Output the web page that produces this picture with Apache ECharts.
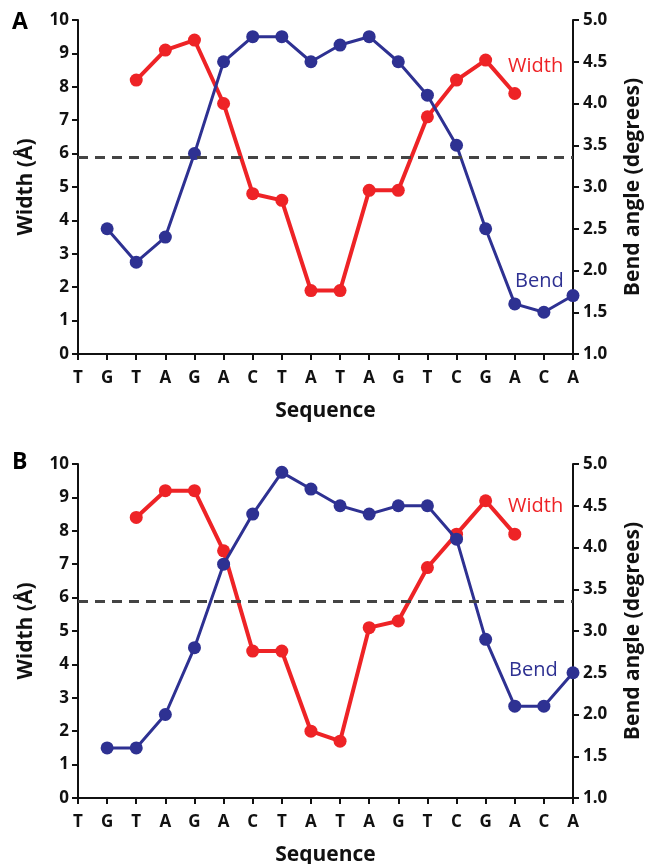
<!DOCTYPE html>
<html>
<head>
<meta charset="utf-8">
<script src="https://cdn.jsdelivr.net/npm/echarts@6/dist/echarts.min.js"></script>
<style>
  html, body { margin: 0; padding: 0; background: #fff; }
  #chart { width: 646px; height: 864px; }
</style>
</head>
<body>
<div id="chart"></div>
<script>
const sequence = ['T', 'G', 'T', 'A', 'G', 'A', 'C', 'T', 'A', 'T', 'A', 'G', 'T', 'C', 'G', 'A', 'C', 'A']

// panel A
const widthA = [null, null, 8.2, 9.1, 9.4, 7.5, 4.8, 4.6, 1.9, 1.9, 4.9, 4.9, 7.1, 8.2, 8.8, 7.8, null, null]
const bendA = [null, 2.5, 2.1, 2.4, 3.4, 4.5, 4.8, 4.8, 4.5, 4.7, 4.8, 4.5, 4.1, 3.5, 2.5, 1.6, 1.5, 1.7]
// panel B
const widthB = [null, null, 8.4, 9.2, 9.2, 7.4, 4.4, 4.4, 2.0, 1.7, 5.1, 5.3, 6.9, 7.9, 8.9, 7.9, null, null]
const bendB = [null, 1.6, 1.6, 2.0, 2.8, 3.8, 4.4, 4.9, 4.7, 4.5, 4.4, 4.5, 4.5, 4.1, 2.9, 2.1, 2.1, 2.5]

const refWidth = 5.9
const widthTicks = [0, 10, 1]
const bendTicks = [1, 5, 0.5]

const font = '"Open Sans", "DejaVu Sans", sans-serif'
const red = '#ee2326'
const blue = '#2e3192'
const axisBlack = '#111'

const chart = echarts.init(document.getElementById('chart'))

const grids = [
    { left: 78, top: 20, width: 495, height: 334, outerBoundsMode: 'none', containLabel: false },
    { left: 78, top: 464, width: 495, height: 334, outerBoundsMode: 'none', containLabel: false },
]

function xAxisFor(i) {
    return {
        type: 'category',
        gridIndex: i,
        data: sequence,
        boundaryGap: false,
        name: 'Sequence',
        nameLocation: 'middle',
        nameGap: 47,
        nameTextStyle: { fontFamily: font, fontSize: 21, fontWeight: 'bold', color: axisBlack },
        axisLine: { lineStyle: { color: axisBlack, width: 2 } },
        axisTick: { length: 6, lineStyle: { color: axisBlack, width: 2 } },
        axisLabel: { margin: 16, fontFamily: font, fontSize: 17, fontWeight: 'bold', color: axisBlack, interval: 0 },
        splitLine: { show: false },
    }
}

function yLeft(i) {
    return {
        type: 'value',
        gridIndex: i,
        position: 'left',
        min: widthTicks[0],
        max: widthTicks[1],
        interval: widthTicks[2],
        name: 'Width (Å)',
        nameLocation: 'middle',
        nameGap: 41,
        nameTextStyle: { fontFamily: font, fontSize: 21, fontWeight: 'bold', color: axisBlack },
        axisLine: { show: true, lineStyle: { color: axisBlack, width: 2 } },
        axisTick: { show: true, length: 6, lineStyle: { color: axisBlack, width: 2 } },
        axisLabel: { margin: 9, fontFamily: font, fontSize: 17, fontWeight: 'bold', color: axisBlack },
        splitLine: { show: false },
    }
}

function yRight(i) {
    return {
        type: 'value',
        gridIndex: i,
        position: 'right',
        min: bendTicks[0],
        max: bendTicks[1],
        interval: bendTicks[2],
        name: 'Bend angle (degrees)',
        nameLocation: 'middle',
        nameGap: 50,
        nameRotate: 90,
        nameTextStyle: { fontFamily: font, fontSize: 21, fontWeight: 'bold', color: axisBlack },
        axisLine: { show: true, lineStyle: { color: axisBlack, width: 2 } },
        axisTick: { show: true, length: 6, lineStyle: { color: axisBlack, width: 2 } },
        axisLabel: {
            margin: 10, fontFamily: font, fontSize: 17, fontWeight: 'bold', color: axisBlack,
            formatter: (v) => v.toFixed(1),
        },
        splitLine: { show: false },
    }
}

function widthSeries(data, i) {
    return {
        name: 'Width',
        type: 'line',
        xAxisIndex: i,
        yAxisIndex: i * 2,
        data: data,
        z: 3,
        symbol: 'circle',
        symbolSize: 13,
        connectNulls: false,
        lineStyle: { color: red, width: 4 },
        itemStyle: { color: red },
        markLine: {
            silent: true,
            symbol: 'none',
            label: { show: false },
            lineStyle: { color: '#444', type: [10, 7], width: 3 },
            data: [{ yAxis: refWidth }],
        },
    }
}

function bendSeries(data, i) {
    return {
        name: 'Bend',
        type: 'line',
        xAxisIndex: i,
        yAxisIndex: i * 2 + 1,
        data: data,
        z: 4,
        symbol: 'circle',
        symbolSize: 13,
        lineStyle: { color: blue, width: 3 },
        itemStyle: { color: blue },
    }
}

function textEl(text, x, y, color, size, weight) {
    return {
        type: 'text',
        left: x,
        top: y,
        z: 10,
        style: { text: text, fill: color, fontFamily: font, fontSize: size, fontWeight: weight },
    }
}

let option = {
    animation: false,
    backgroundColor: '#fff',
    grid: grids,
    xAxis: [xAxisFor(0), xAxisFor(1)],
    yAxis: [yLeft(0), yRight(0), yLeft(1), yRight(1)],
    series: [
        widthSeries(widthA, 0),
        bendSeries(bendA, 0),
        widthSeries(widthB, 1),
        bendSeries(bendB, 1),
    ],
    graphic: [
        textEl('A', 12, 11, '#000', 23, 'bold'),
        textEl('B', 12, 451, '#000', 23, 'bold'),
        textEl('Width', 508, 56, red, 20, 'normal'),
        textEl('Bend', 515, 271, blue, 20, 'normal'),
        textEl('Width', 508, 496, red, 20, 'normal'),
        textEl('Bend', 509, 660, blue, 20, 'normal'),
    ],
}
chart.setOption(option)
</script>
</body>
</html>
